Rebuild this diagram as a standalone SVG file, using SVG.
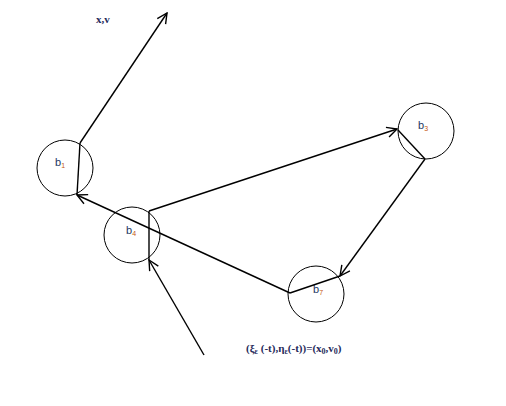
<svg xmlns="http://www.w3.org/2000/svg" width="506" height="406" viewBox="0 0 506 406">
<style>
.c{fill:none;stroke:#000;stroke-width:1}
.l{fill:none;stroke:#000;stroke-width:1.4}
.lab{font-family:"Liberation Sans",Arial,sans-serif;font-size:11px;fill:#1f3864}
.sub{font-size:7px;fill:#c55a11}
.ser{font-family:"Liberation Serif","Times New Roman",serif;font-weight:bold;font-size:11px;fill:#1f2a5a}
</style>
<defs>
<marker id="a" viewBox="0 0 12 12" refX="11" refY="6" markerWidth="12" markerHeight="12" markerUnits="userSpaceOnUse" orient="auto">
<path d="M1,1 L11,6 L1,11" fill="none" stroke="#000" stroke-width="1.4"/>
</marker>
</defs>
<rect width="506" height="406" fill="#fff"/>
<g id="b1"><circle class="c" cx="65" cy="168" r="28"/><text class="lab" x="55" y="166">b<tspan class="sub" dy="2">1</tspan></text></g>
<g id="b4"><circle class="c" cx="132" cy="235" r="28"/><text class="lab" x="126" y="234">b<tspan class="sub" dy="2">4</tspan></text></g>
<g id="b3"><circle class="c" cx="426" cy="131" r="28"/><text class="lab" x="418" y="129">b<tspan class="sub" dy="2">3</tspan></text></g>
<g id="b7"><circle class="c" cx="316" cy="294" r="28"/><text class="lab" x="313" y="293">b<tspan class="sub" dy="2">7</tspan></text></g>
<g id="connectors">
<line class="l" x1="80" y1="143" x2="77" y2="195"/>
<line class="l" x1="80" y1="143" x2="167" y2="13" marker-end="url(#a)"/>
<line class="l" x1="149" y1="211" x2="149" y2="260"/>
<line class="l" x1="149" y1="211" x2="397" y2="129" marker-end="url(#a)"/>
<line class="l" x1="398" y1="130" x2="425" y2="159"/>
<line class="l" x1="425" y1="159" x2="340" y2="276" marker-end="url(#a)"/>
<line class="l" x1="290" y1="293" x2="340" y2="276"/>
<line class="l" x1="290" y1="293" x2="77" y2="195" marker-end="url(#a)"/>
<line class="l" x1="204" y1="355" x2="149" y2="260" marker-end="url(#a)"/>
</g>
<text class="ser" x="96" y="23">x,v</text>
<text class="ser" x="246" y="352">(ξ<tspan font-size="8" dy="2">ε</tspan><tspan dy="-2"> (-t),η</tspan><tspan font-size="8" dy="2">ε</tspan><tspan dy="-2">(-t))=(x</tspan><tspan font-size="8" dy="2">0</tspan><tspan dy="-2">,v</tspan><tspan font-size="8" dy="2">0</tspan><tspan dy="-2">)</tspan></text>
</svg>
